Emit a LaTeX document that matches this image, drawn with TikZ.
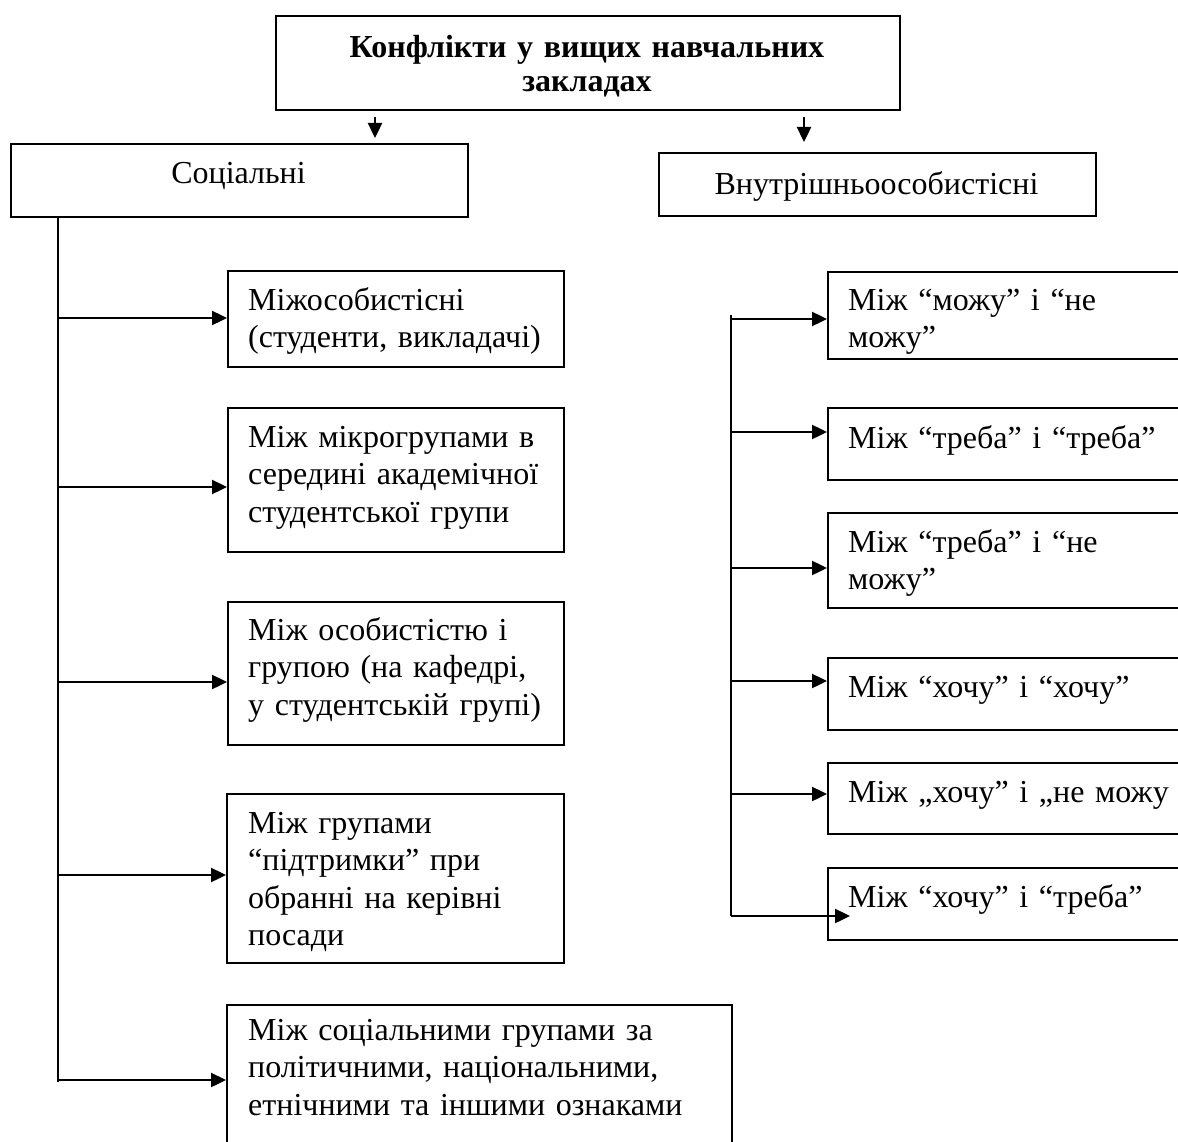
\documentclass[tikz,border=0pt]{standalone}
\usepackage{fontspec}
\setmainfont{Liberation Serif}
\usetikzlibrary{arrows.meta}
\tikzset{
  boxnode/.style={draw, line width=2.4pt, inner sep=0pt, anchor=north west},
  txtnode/.style={inner sep=0pt, anchor=base west, align=left, text width=520pt,
     font=\fontsize{32}{37.5}\selectfont},
  arr/.style={line width=2.4pt, -{Triangle[length=15pt,width=14pt]}},
  trunk/.style={line width=2.4pt}
}
\begin{document}
\begin{tikzpicture}[x=1pt,y=-1pt,font=\fontsize{32}{37.5}\selectfont]
\useasboundingbox (0,0) rectangle (1178,1142);
\clip (0,0) rectangle (1178,1142);
% top level
\node[boxnode, minimum width=624pt, minimum height=94pt] (top) at (275,15) {};
\node[align=center, text width=620pt, inner sep=0pt, anchor=base,
      font=\fontsize{32}{34}\selectfont\bfseries]
  (toptxt) at (587,58) {Конфлікти у вищих навчальних\\закладах};
\node[boxnode, minimum width=457pt, minimum height=73pt] (soc) at (10,143) {};
\node[inner sep=0pt, anchor=base] (soctxt) at (238.5,184) {Соціальні};
\node[boxnode, minimum width=437pt, minimum height=63pt] (vnu) at (658,152) {};
\node[inner sep=0pt, anchor=base] (vnutxt) at (876.5,195) {Внутрішньоособистісні};
\coordinate (d1) at (375,0);
\coordinate (d2) at (804,0);
\draw[arr, shorten <=6pt, shorten >=5pt] (top.south -| d1) -- (soc.north -| d1);
\draw[arr, shorten <=6pt, shorten >=10pt] (top.south -| d2) -- (vnu.north -| d2);
% left boxes
\node[boxnode, minimum width=336pt, minimum height=96pt] (l1) at (227,270) {};
\node[txtnode] (l1t) at (248,310) {Міжособистісні\\(студенти, викладачі)};
\node[boxnode, minimum width=336pt, minimum height=144pt] (l2) at (227,407) {};
\node[txtnode] (l2t) at (248,447) {Між мікрогрупами в\\середині академічної\\студентської групи};
\node[boxnode, minimum width=336pt, minimum height=143pt] (l3) at (227,601) {};
\node[txtnode] (l3t) at (248,640) {Між особистістю і\\групою (на кафедрі,\\у студентській групі)};
\node[boxnode, minimum width=337pt, minimum height=169pt] (l4) at (226,793) {};
\node[txtnode] (l4t) at (248,833) {Між групами\\“підтримки” при\\обранні на керівні\\посади};
\node[boxnode, minimum width=505pt, minimum height=160pt] (l5) at (226,1004) {};
\node[txtnode] (l5t) at (248,1040) {Між соціальними групами за\\політичними, національними,\\етнічними та іншими ознаками};
% left trunk
\coordinate (ltop) at (58,218);
\coordinate (lbot) at (58,1082);
\draw[trunk] (ltop) -- (lbot);
\coordinate (a1) at (58,318);
\coordinate (a2) at (58,487);
\coordinate (a3) at (58,682);
\coordinate (a4) at (58,875);
\coordinate (a5) at (58,1080);
\foreach \i in {1,...,5} {\draw[arr] (a\i) -- (a\i -| l\i.west);}
% right boxes
\node[boxnode, minimum width=380pt, minimum height=87pt] (r1) at (827,271) {};
\begin{scope}
\clip (r1.north west) rectangle (r1.south east);
\node[txtnode] (r1t) at (848,310) {Між “можу” і “не\\можу”};
\end{scope}
\node[boxnode, minimum width=380pt, minimum height=72pt] (r2) at (827,407) {};
\node[txtnode] (r2t) at (848,448) {Між “треба” і “треба”};
\node[boxnode, minimum width=380pt, minimum height=95pt] (r3) at (827,512) {};
\node[txtnode] (r3t) at (848,552) {Між “треба” і “не\\можу”};
\node[boxnode, minimum width=380pt, minimum height=72pt] (r4) at (827,657) {};
\node[txtnode] (r4t) at (848,697) {Між “хочу” і “хочу”};
\node[boxnode, minimum width=380pt, minimum height=71pt] (r5) at (827,762) {};
\node[txtnode] (r5t) at (848,802) {Між „хочу” і „не можу};
\node[boxnode, minimum width=380pt, minimum height=72pt] (r6) at (827,867) {};
\node[txtnode] (r6t) at (848,907) {Між “хочу” і “треба”};
% right trunk
\coordinate (rtop) at (731,315);
\coordinate (rbot) at (731,916);
\draw[trunk] (rtop) -- (rbot);
\coordinate (b1) at (731,319);
\coordinate (b2) at (731,432);
\coordinate (b3) at (731,568);
\coordinate (b4) at (731,681);
\coordinate (b5) at (731,794);
\foreach \i in {1,...,5} {\draw[arr] (b\i) -- (b\i -| r\i.west);}
\draw[arr, shorten >=-23pt] (rbot) -- (rbot -| r6.west);
\end{tikzpicture}
\end{document}
